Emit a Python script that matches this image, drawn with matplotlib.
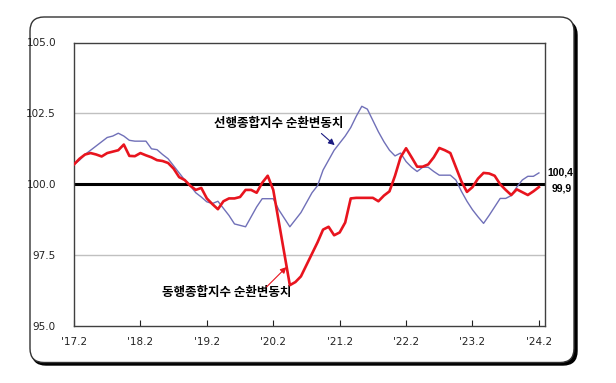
import matplotlib
matplotlib.use("Agg")
import matplotlib.pyplot as plt
from matplotlib.patches import FancyBboxPatch
from matplotlib.transforms import IdentityTransform

# months from '17.2 to '24.2
tick_labels = ["'17.2", "'18.2", "'19.2", "'20.2", "'21.2", "'22.2", "'23.2", "'24.2"]

leading = [100.7, 100.85, 101.05, 101.2, 101.35, 101.5, 101.65, 101.7, 101.8, 101.7,
           101.55, 101.52, 101.52, 101.52, 101.25, 101.22, 101.05, 100.9, 100.65, 100.4,
           100.15, 99.95, 99.7, 99.55, 99.38, 99.32, 99.4, 99.15, 98.9, 98.6,
           98.55, 98.5, 98.85, 99.2, 99.49, 99.49, 99.49, 99.1, 98.8, 98.5,
           98.75, 99.0, 99.35, 99.7, 99.95, 100.5, 100.85, 101.2, 101.45, 101.7,
           102.0, 102.4, 102.75, 102.65, 102.25, 101.85, 101.5, 101.2, 101.0, 101.1,
           100.8, 100.6, 100.45, 100.6, 100.6, 100.45, 100.32, 100.32, 100.32, 100.15,
           99.75, 99.4, 99.1, 98.85, 98.62, 98.9, 99.2, 99.5, 99.5, 99.6,
           99.9, 100.15, 100.28, 100.28, 100.4]

coincident = [100.7, 100.9, 101.05, 101.1, 101.05, 100.98, 101.1, 101.15, 101.2, 101.4,
              101.0, 100.99, 101.1, 101.02, 100.95, 100.85, 100.82, 100.75, 100.55, 100.25,
              100.15, 99.95, 99.8, 99.87, 99.5, 99.3, 99.12, 99.4, 99.5, 99.5,
              99.55, 99.8, 99.8, 99.7, 100.05, 100.3, 99.8, 98.68, 97.56, 96.44,
              96.55, 96.75, 97.15, 97.55, 97.95, 98.4, 98.5, 98.2, 98.3, 98.65,
              99.5, 99.52, 99.52, 99.52, 99.52, 99.4, 99.6, 99.75, 100.3, 100.95,
              101.27, 100.95, 100.62, 100.62, 100.7, 100.95, 101.28, 101.2, 101.1, 100.6,
              100.1, 99.73, 99.9, 100.2, 100.4, 100.38, 100.3, 100.0, 99.8, 99.62,
              99.82, 99.72, 99.62, 99.75, 99.9]

months = list(range(len(leading)))

fig = plt.figure(figsize=(6.16, 3.83), dpi=100)

# rounded frame with shadow (pixel coords)
shadow = FancyBboxPatch((32, 18), 545, 344, boxstyle="round,pad=0,rounding_size=14",
                        transform=IdentityTransform(), facecolor="black", edgecolor="black",
                        zorder=-3)
frame = FancyBboxPatch((30, 20.5), 544, 345.5, boxstyle="round,pad=0,rounding_size=14",
                       transform=IdentityTransform(), facecolor="white", edgecolor="#333333",
                       lw=1, zorder=-2)
fig.patches.extend([shadow, frame])

ax = fig.add_axes([74 / 616, 57 / 383, 471 / 616, 283.5 / 383])
ax.set_facecolor("none")

ax.axhline(102.5, color="#c0c0c0", lw=1, zorder=1)
ax.axhline(97.5, color="#c0c0c0", lw=1, zorder=1)
ax.axhline(100.0, color="black", lw=2.2, zorder=2)

ax.plot(months, leading, color="#7070b8", lw=1.0, zorder=3)
ax.plot(months, coincident, color="#e8141e", lw=1.9, zorder=4)

ax.set_xlim(0, 85.1)
ax.set_ylim(95, 105)
ax.set_yticks([95, 97.5, 100, 102.5, 105])
ax.set_yticklabels(["95.0", "97.5", "100.0", "102.5", "105.0"])
ax.set_xticks(range(0, 85, 12))
ax.set_xticklabels(tick_labels)
ax.tick_params(axis="y", length=0, pad=13, labelsize=7.5, colors="#222222")
ax.tick_params(axis="x", direction="in", length=4, pad=8, labelsize=7.5, colors="#222222")
for s in ax.spines.values():
    s.set_color("#404040")
    s.set_linewidth(1)

kfont = ["Noto Sans CJK KR", "DejaVu Sans"]
ax.text(37.0, 102.14, "선행종합지수 순환변동치", ha="center", va="center", fontsize=9,
        fontweight="bold", family=kfont)
ax.annotate("", xy=(47.1, 101.38), xytext=(44.7, 101.79),
            arrowprops=dict(arrowstyle="-|>", color="#1a1a80", lw=0.8,
                            mutation_scale=9, shrinkA=0, shrinkB=0))
ax.text(27.5, 96.17, "동행종합지수 순환변동치", ha="center", va="center", fontsize=9,
        fontweight="bold", family=kfont)
ax.annotate("", xy=(38.4, 97.08), xytext=(34.8, 96.38),
            arrowprops=dict(arrowstyle="-|>", color="#e8141e", lw=0.8,
                            mutation_scale=9, shrinkA=0, shrinkB=0))

ax.text(85.5, leading[-1] + 0.02, "100,4", ha="left", va="center", fontsize=7.5,
        fontweight="bold", family="Liberation Sans", clip_on=False)
ax.text(86.3, coincident[-1] - 0.05, "99,9", ha="left", va="center", fontsize=7.5,
        fontweight="bold", family="Liberation Sans", clip_on=False)

fig.savefig("out.png", dpi=100)
